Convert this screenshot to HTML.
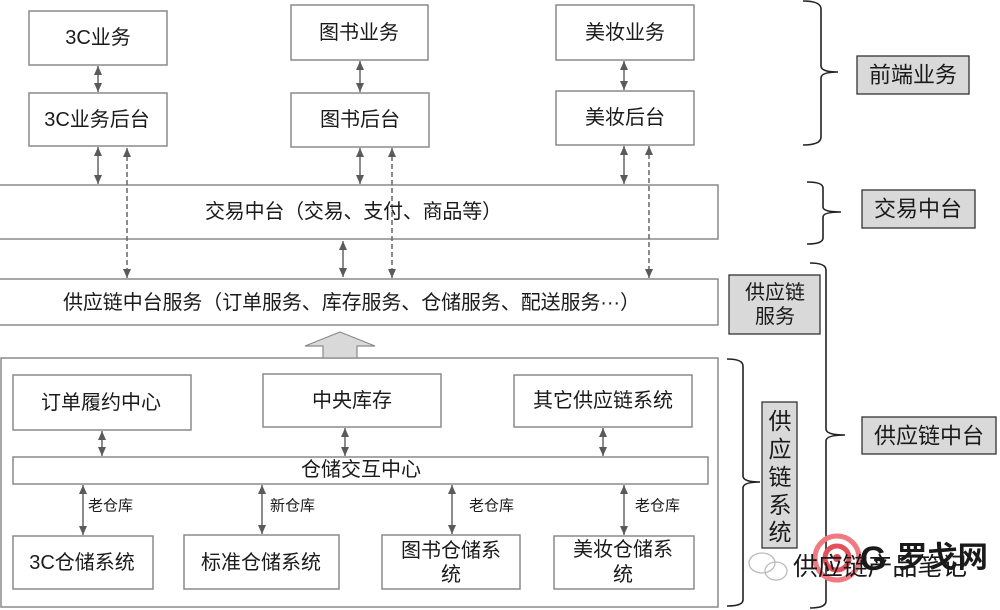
<!DOCTYPE html>
<html><head><meta charset="utf-8"><style>
html,body{margin:0;padding:0;background:#fff;}
svg{display:block;}
text{font-family:"Liberation Sans","Noto Sans CJK SC",sans-serif;fill:#1a1a1a;}
</style></head><body>
<svg width="1000" height="610" viewBox="0 0 1000 610" xmlns="http://www.w3.org/2000/svg">
<defs>
<marker id="ah" viewBox="0 0 9 8" refX="9" refY="4" markerWidth="9" markerHeight="8" markerUnits="userSpaceOnUse" orient="auto-start-reverse">
<path d="M0,0 L9,4 L0,8 z" fill="#5a5a5a"/>
</marker>
</defs>
<rect x="0" y="0" width="1000" height="610" fill="#fff"/>

<g fill="#fff" stroke="#8a8a8a" stroke-width="1.5">
<rect x="29" y="11" width="138" height="54"/>
<rect x="29" y="93" width="138" height="53"/>
<rect x="291" y="5" width="137" height="55"/>
<rect x="291" y="93" width="138" height="54"/>
<rect x="556" y="5" width="138" height="55"/>
<rect x="556" y="91" width="138" height="54"/>
<rect x="-1" y="185" width="719" height="54"/>
<rect x="-1" y="279" width="719" height="46"/>
<rect x="1" y="358" width="717" height="249"/>
<rect x="13" y="375" width="178" height="55"/>
<rect x="263" y="374" width="178" height="53"/>
<rect x="514" y="375" width="178" height="52"/>
<rect x="13" y="457" width="695" height="27"/>
<rect x="13" y="536" width="140" height="53"/>
<rect x="184" y="535" width="155" height="54"/>
<rect x="382" y="535" width="138" height="54"/>
<rect x="554" y="536" width="140" height="53"/>
</g>

<!-- big gray arrow -->
<path d="M340,332 L375,346 L357,346 L357,358 L323,358 L323,346 L305,346 Z" fill="#d9d9d9" stroke="#8a8a8a" stroke-width="1.2"/>

<!-- solid arrows -->
<g stroke="#666" stroke-width="1.5" fill="none" marker-start="url(#ah)" marker-end="url(#ah)">
<line x1="98" y1="66" x2="98" y2="92"/>
<line x1="98" y1="147" x2="98" y2="184"/>
<line x1="360" y1="61" x2="360" y2="92"/>
<line x1="360" y1="148" x2="360" y2="184"/>
<line x1="624" y1="61" x2="624" y2="90"/>
<line x1="624" y1="146" x2="624" y2="184"/>
<line x1="343" y1="241" x2="343" y2="277"/>
<line x1="102" y1="431" x2="102" y2="456"/>
<line x1="345" y1="428" x2="345" y2="456"/>
<line x1="603" y1="428" x2="603" y2="456"/>
<line x1="83" y1="485" x2="83" y2="535"/>
<line x1="262" y1="485" x2="262" y2="534"/>
<line x1="452" y1="485" x2="452" y2="534"/>
<line x1="624" y1="485" x2="624" y2="535"/>
</g>
<!-- dashed arrows -->
<g stroke="#666" stroke-width="1.5" fill="none" stroke-dasharray="5,3" marker-start="url(#ah)" marker-end="url(#ah)">
<line x1="127" y1="148" x2="127" y2="278"/>
<line x1="392" y1="148" x2="392" y2="278"/>
<line x1="649" y1="146" x2="649" y2="278"/>
</g>

<!-- box texts -->
<g font-size="20" text-anchor="middle" dominant-baseline="central">
<text x="98" y="38">3C业务</text>
<text x="97" y="120">3C业务后台</text>
<text x="359" y="33">图书业务</text>
<text x="360" y="120">图书后台</text>
<text x="625" y="33">美妆业务</text>
<text x="625" y="118">美妆后台</text>
<text x="101" y="403">订单履约中心</text>
<text x="352" y="401">中央库存</text>
<text x="603" y="401">其它供应链系统</text>
<text x="361" y="470">仓储交互中心</text>
<text x="82" y="563">3C仓储系统</text>
<text x="261" y="563">标准仓储系统</text>
<text x="451" y="551">图书仓储系</text>
<text x="451" y="575">统</text>
<text x="623" y="550">美妆仓储系</text>
<text x="623" y="575">统</text>
</g>
<text x="205" y="212" font-size="20" dominant-baseline="central" textLength="297" lengthAdjust="spacing">交易中台（交易、支付、商品等）</text>
<text x="63" y="303" font-size="20" dominant-baseline="central" textLength="577" lengthAdjust="spacing">供应链中台服务（订单服务、库存服务、仓储服务、配送服务···）</text>

<g font-size="15" dominant-baseline="central" fill="#333">
<text x="88" y="506">老仓库</text>
<text x="270" y="506">新仓库</text>
<text x="469" y="506">老仓库</text>
<text x="635" y="506">老仓库</text>
</g>

<!-- braces -->
<g stroke="#222" stroke-width="1.6" fill="none">
<path d="M803,1 Q821,1 821,9 L821,66 Q821,72 838,72 Q821,72 821,78 L821,137 Q821,145 803,145"/>
<path d="M807,182 Q823,182 823,188 L823,207 Q823,212 841,212 Q823,212 823,217 L823,238 Q823,244 807,244"/>
<path d="M810,263 Q826,263 826,270 L826,429 Q826,435 845,435 Q826,435 826,441 L826,601 Q826,608 810,608"/>
<path d="M727,359 Q743,359 743,366 L743,476 Q743,482 760,482 Q743,482 743,488 L743,600 Q743,606 727,606"/>
</g>

<!-- right labels -->
<g fill="#d9d9d9" stroke="#333" stroke-width="1.3">
<rect x="857" y="56" width="112" height="38"/>
<rect x="862" y="190" width="113" height="38"/>
<rect x="729" y="275" width="91" height="59"/>
<rect x="862" y="417" width="134" height="37"/>
<rect x="762" y="402" width="35" height="146"/>
</g>
<g text-anchor="middle" dominant-baseline="central">
<text x="913" y="75" font-size="22">前端业务</text>
<text x="918" y="209" font-size="22">交易中台</text>
<text x="775" y="293" font-size="20">供应链</text>
<text x="775" y="317" font-size="20">服务</text>
<text x="929" y="436" font-size="22">供应链中台</text>
<text x="780" y="421" font-size="23">供</text>
<text x="780" y="449" font-size="23">应</text>
<text x="780" y="477" font-size="23">链</text>
<text x="780" y="505" font-size="23">系</text>
<text x="780" y="532" font-size="23">统</text>
</g>

<!-- watermark -->
<g>
<circle cx="837" cy="558" r="22" fill="none" stroke="#f07a82" stroke-width="5"/>
<circle cx="837" cy="558" r="12" fill="none" stroke="#e4505a" stroke-width="5"/>
<circle cx="837" cy="558" r="4" fill="#e04550"/>
<g fill="none" stroke="#bbb" stroke-width="1.3">
<ellipse cx="762" cy="563" rx="13" ry="10"/>
<ellipse cx="776" cy="571" rx="11" ry="9"/>
</g>
<text x="860" y="559" font-size="34" font-weight="bold" fill="#cfcfcf" dominant-baseline="central">G</text>
<text x="793" y="567" font-size="25" fill="#b0b0b0" dominant-baseline="central" textLength="174" lengthAdjust="spacing">供应链产品笔记</text>
<text x="897" y="558" font-size="30" font-weight="bold" fill="#e03a46" dominant-baseline="central" textLength="91" lengthAdjust="spacingAndGlyphs">罗戈网</text>
</g>
</svg>
</body></html>
